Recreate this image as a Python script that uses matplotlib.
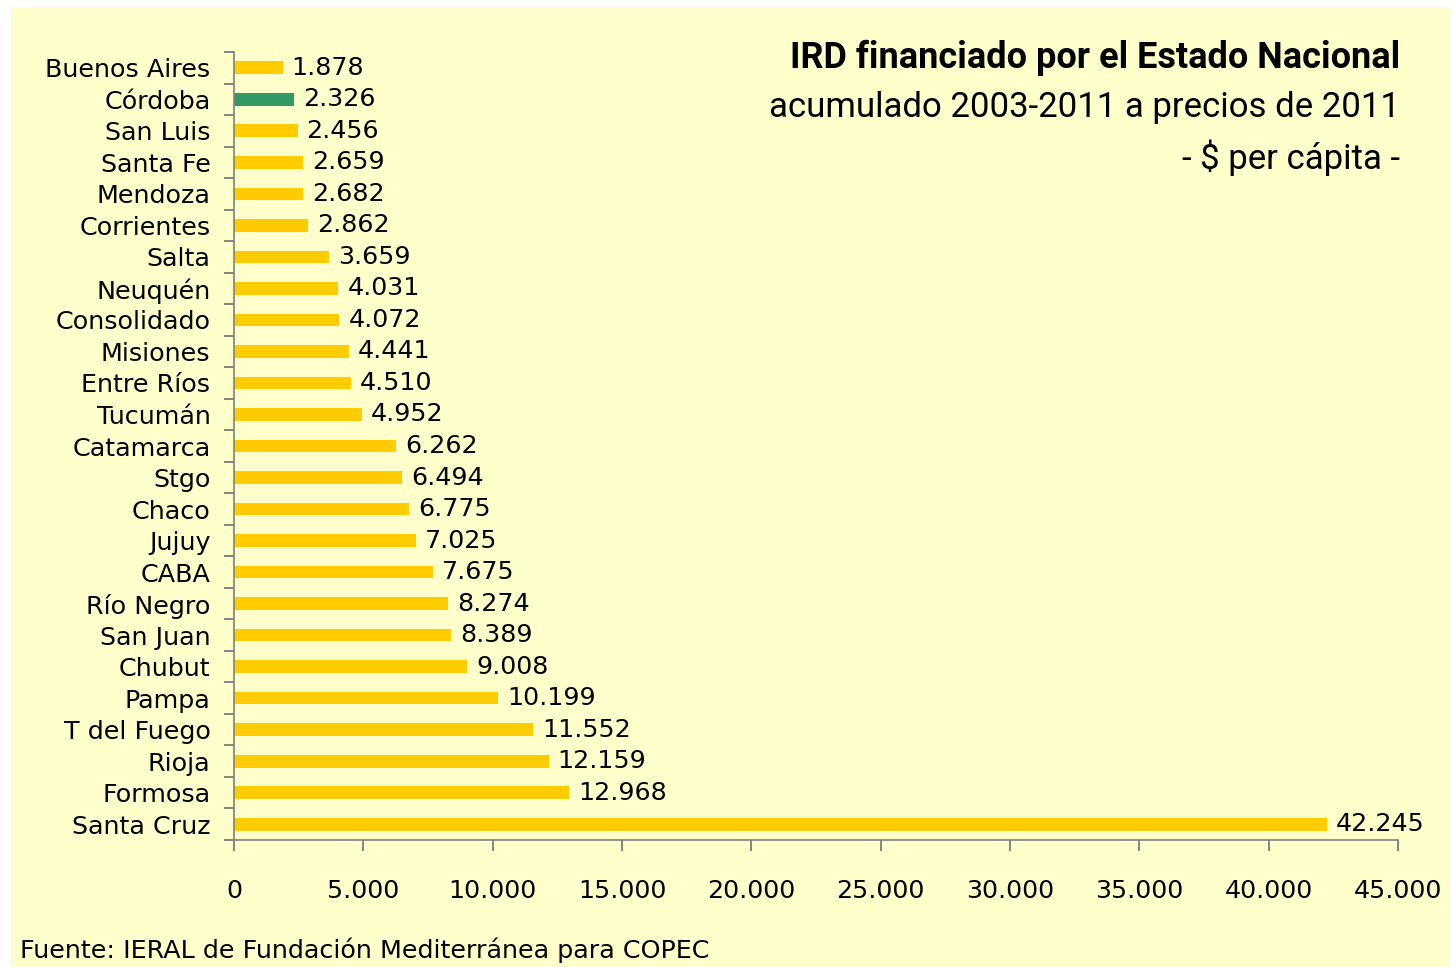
import matplotlib
matplotlib.use("Agg")
from matplotlib import pyplot as plt
from matplotlib.patches import Rectangle
from matplotlib.ticker import FuncFormatter, FixedLocator
import numpy as np

provincias = ["Buenos Aires", "Córdoba", "San Luis", "Santa Fe", "Mendoza", "Corrientes",
              "Salta", "Neuquén", "Consolidado", "Misiones", "Entre Ríos", "Tucumán",
              "Catamarca", "Stgo", "Chaco", "Jujuy", "CABA", "Río Negro", "San Juan",
              "Chubut", "Pampa", "T del Fuego", "Rioja", "Formosa", "Santa Cruz"]
valores = [1878, 2326, 2456, 2659, 2682, 2862, 3659, 4031, 4072, 4441, 4510, 4952,
           6262, 6494, 6775, 7025, 7675, 8274, 8389, 9008, 10199, 11552, 12159, 12968, 42245]
destacada = "Córdoba"

x_ticks = [0, 5000, 10000, 15000, 20000, 25000, 30000, 35000, 40000, 45000]

fondo = "#FFFFCC"
amarillo = "#FFCC00"
verde = "#339966"
fs = 18.3


def miles(v, pos=None):
    return f"{int(v):,}".replace(",", ".")


fig = plt.figure(figsize=(14.53, 9.67), dpi=100)
fig.patch.set_facecolor("white")
fig.patches.append(Rectangle((11 / 1453, 0), 1 - 14 / 1453, 1 - 7 / 967,
                             transform=fig.transFigure, facecolor=fondo,
                             edgecolor="none", zorder=-10))

ax = fig.add_axes([234 / 1453, 1 - 840 / 967, (1398 - 234) / 1453, (840 - 52) / 967])
ax.set_facecolor("none")

n = len(provincias)
pos = np.arange(n)
colores = [verde if p == destacada else amarillo for p in provincias]
ax.barh(pos, valores, height=0.4, color=colores, edgecolor="none")

for y, v in zip(pos, valores):
    ax.text(v + 350, y, miles(v), va="center", ha="left", fontsize=fs, color="black")

ax.set_ylim(n - 0.5, -0.5)
ax.set_xlim(0, 45000)

ax.set_yticks(pos)
ax.set_yticklabels(provincias, fontsize=fs)
ax.yaxis.set_minor_locator(FixedLocator(np.arange(-0.5, n, 1)))
ax.tick_params(axis="y", which="major", length=0, pad=17)
ax.tick_params(axis="y", which="minor", length=7, width=1.2, color="#707070", direction="out")

ax.set_xticks(x_ticks)
ax.xaxis.set_major_formatter(FuncFormatter(miles))
ax.tick_params(axis="x", length=8, width=1.2, color="#707070", direction="out",
               pad=20, labelsize=fs)

for s in ["top", "right"]:
    ax.spines[s].set_visible(False)
for s in ["left", "bottom"]:
    ax.spines[s].set_color("#808080")
    ax.spines[s].set_linewidth(1.2)

titulo_fam = ["Roboto", "DejaVu Sans"]
fig.text(1400 / 1453, 1 - 58 / 967, "IRD financiado por el Estado Nacional",
         ha="right", va="center", fontsize=26, fontweight="bold", family=titulo_fam)
fig.text(1400 / 1453, 1 - 108 / 967, "acumulado 2003-2011 a precios de 2011",
         ha="right", va="center", fontsize=25, family=titulo_fam)
fig.text(1400 / 1453, 1 - 158 / 967, "- $ per cápita -",
         ha="right", va="center", fontsize=25, family=titulo_fam)

fig.text(20 / 1453, 1 - 950 / 967, "Fuente: IERAL de Fundación Mediterránea para COPEC",
         ha="left", va="center", fontsize=fs)

fig.savefig("out.png", dpi=100, facecolor=fig.get_facecolor())
